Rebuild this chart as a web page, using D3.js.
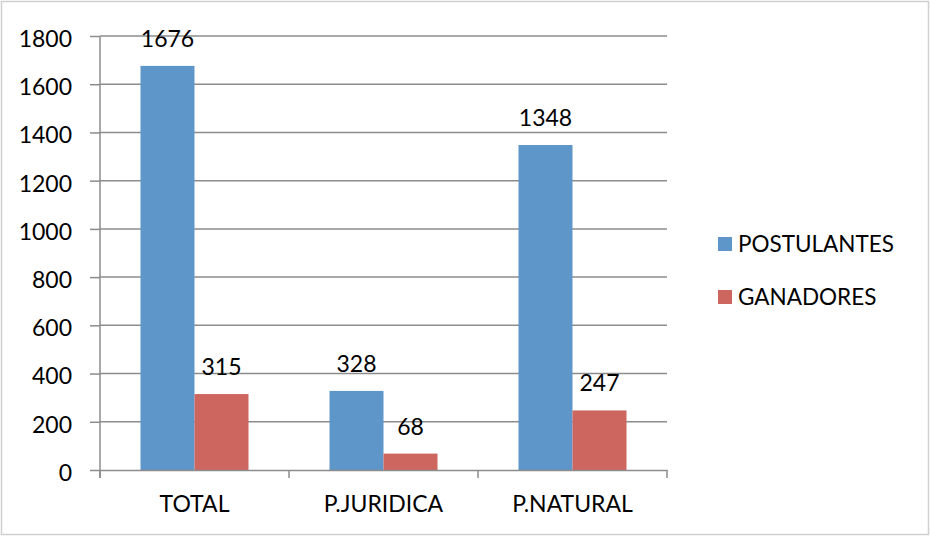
<!DOCTYPE html>
<html>
<head>
<meta charset="utf-8">
<script src="https://cdn.jsdelivr.net/npm/d3@7"></script>
<style>
  html, body { margin: 0; padding: 0; background: #fff; }
  svg { display: block; font-family: Lato, "Liberation Sans", sans-serif; }
</style>
</head>
<body>
<svg id="chart" width="931" height="537"></svg>
<script>
// Categories and series
const categories = ["TOTAL", "P.JURIDICA", "P.NATURAL"];
const seriesNames = ["POSTULANTES", "GANADORES"];
const postulantes = [1676, 328, 1348];
const ganadores = [315, 68, 247];
const yTicks = [0, 200, 400, 600, 800, 1000, 1200, 1400, 1600, 1800];
const colors = ["#5F96CA", "#CD665F"];

const svg = d3.select("#chart");
const plot = { left: 100, right: 667, top: 36, bottom: 470 };
const gridColor = "#8C8C8C";

// Outer frame
svg.append("rect")
  .attr("x", 1.5).attr("y", 1.5)
  .attr("width", 927).attr("height", 533)
  .attr("fill", "#fff")
  .attr("stroke", "#D0D0D0").attr("stroke-width", 1.5);

const y = d3.scaleLinear().domain([0, 1800]).range([plot.bottom, plot.top]);
const x0 = d3.scaleBand().domain(categories).range([plot.left, plot.right]).padding(0);
const x1 = d3.scaleBand().domain(seriesNames).range([0, x0.bandwidth()])
  .paddingInner(0).paddingOuter(0.75);

// Horizontal gridlines and y ticks
const yAxis = d3.axisLeft(y).tickValues(yTicks).tickFormat(d3.format("d"))
  .tickSize(10).tickPadding(18);
const gy = svg.append("g").attr("transform", `translate(${plot.left},0)`).call(yAxis);
gy.select(".domain").remove();
gy.selectAll(".tick line").attr("stroke", gridColor).attr("stroke-width", 1.5);
gy.selectAll(".tick text")
  .attr("fill", "#000").attr("font-size", 23).attr("dy", "0.45em")
  .style("font-family", "Lato, sans-serif");

svg.append("g").selectAll("line").data(yTicks.filter(d => d > 0)).join("line")
  .attr("x1", plot.left).attr("x2", plot.right)
  .attr("y1", d => y(d)).attr("y2", d => y(d))
  .attr("stroke", gridColor).attr("stroke-width", 1.5);

// Bars
const rows = categories.map((c, i) => ({ cat: c, vals: [postulantes[i], ganadores[i]] }));
const groups = svg.append("g").selectAll("g").data(rows).join("g")
  .attr("transform", d => `translate(${x0(d.cat)},0)`);

groups.selectAll("rect").data(d => d.vals.map((v, k) => ({ name: seriesNames[k], v, k }))).join("rect")
  .attr("x", d => x1(d.name))
  .attr("y", d => y(d.v))
  .attr("width", x1.bandwidth())
  .attr("height", d => y(0) - y(d.v))
  .attr("fill", d => colors[d.k]);

groups.selectAll("text").data(d => d.vals.map((v, k) => ({ name: seriesNames[k], v, k }))).join("text")
  .attr("x", d => x1(d.name) + x1.bandwidth() / 2)
  .attr("y", d => y(d.v) - 19)
  .attr("text-anchor", "middle")
  .attr("font-size", 23)
  .attr("fill", "#000")
  .text(d => d.v);

// Axis lines (drawn on top of bars)
svg.append("line")
  .attr("x1", plot.left).attr("x2", plot.left)
  .attr("y1", plot.top).attr("y2", plot.bottom + 8)
  .attr("stroke", gridColor).attr("stroke-width", 1.5);

const xAxis = d3.axisBottom(x0).tickSize(0).tickPadding(26);
const gx = svg.append("g").attr("transform", `translate(0,${plot.bottom})`).call(xAxis);
gx.select(".domain").attr("stroke", gridColor).attr("stroke-width", 1.5);
gx.selectAll(".tick text").attr("fill", "#000").attr("font-size", 23)
  .style("font-family", "Lato, sans-serif");

// Category boundary tick marks
const bounds = categories.map(c => x0(c)).concat([plot.right]);
svg.append("g").selectAll("line").data(bounds).join("line")
  .attr("x1", d => d).attr("x2", d => d)
  .attr("y1", plot.bottom).attr("y2", plot.bottom + 8)
  .attr("stroke", gridColor).attr("stroke-width", 1.5);

// Legend
const legend = svg.append("g").selectAll("g").data(seriesNames).join("g")
  .attr("transform", (d, i) => `translate(718,${244 + i * 53})`);
legend.append("rect")
  .attr("x", 0).attr("y", -7).attr("width", 14).attr("height", 14)
  .attr("fill", (d, i) => colors[i]);
legend.append("text")
  .attr("x", 20).attr("y", 0).attr("dy", "0.36em")
  .attr("font-size", 22.5).attr("fill", "#000")
  .text(d => d);
</script>
</body>
</html>
